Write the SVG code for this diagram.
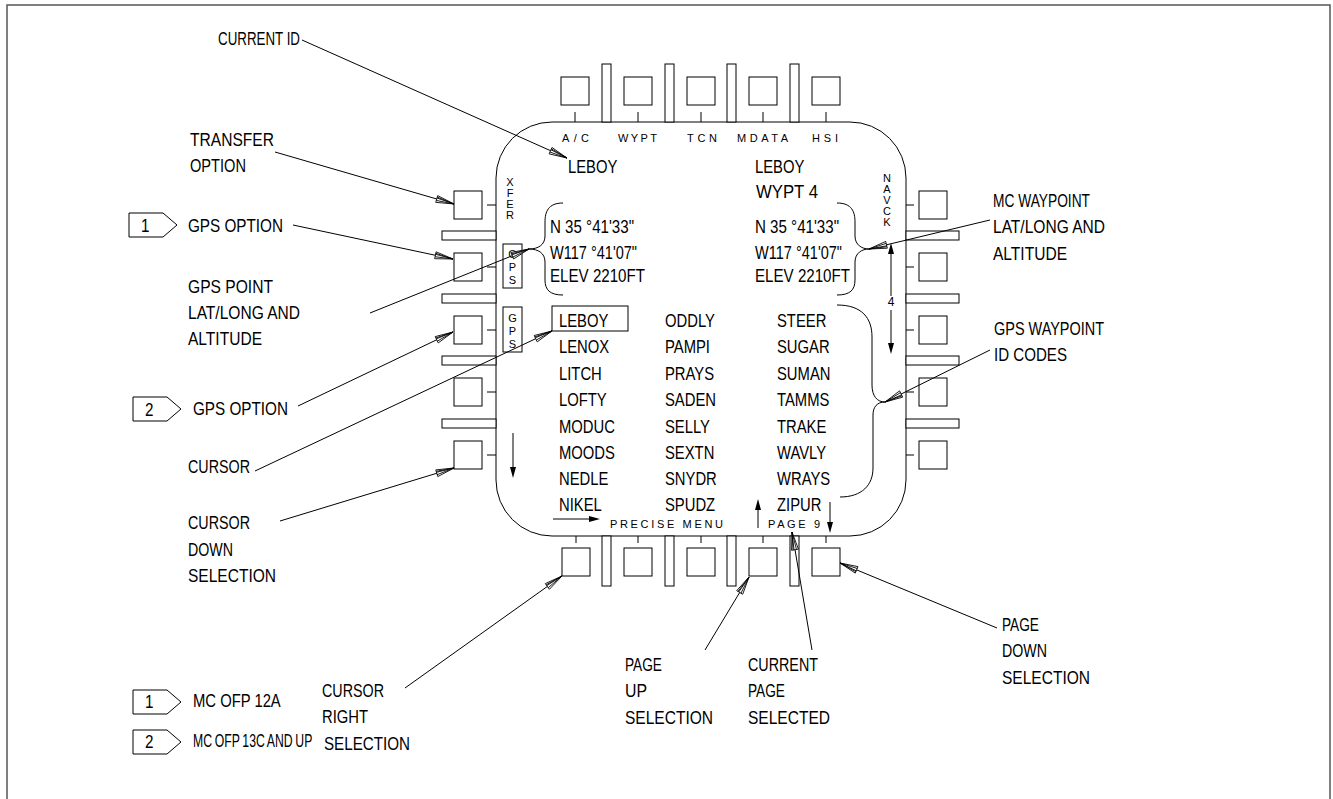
<svg xmlns="http://www.w3.org/2000/svg" width="1333" height="799" viewBox="0 0 1333 799">
<style>
.ln{fill:none;stroke:#000;stroke-width:1}
.bx{fill:#fff;stroke:#000;stroke-width:1}
.t{font-family:"Liberation Sans",Arial,sans-serif;font-size:19px;fill:#000}
.t text{font-family:"Liberation Sans",Arial,sans-serif;font-size:19px}
.s{font-family:"Liberation Sans",Arial,sans-serif;font-size:11px;fill:#000}
.v{font-family:"Liberation Sans",Arial,sans-serif;font-size:11px;fill:#000;text-anchor:middle}
.ld{fill:none;stroke:#000;stroke-width:1;marker-end:url(#oa)}
</style>
<defs>
<marker id="oa" markerUnits="userSpaceOnUse" markerWidth="24" markerHeight="12" refX="20" refY="6" orient="auto" overflow="visible">
<path d="M20,6 L2,2.5 L2,9.5 Z M20,6 L2,5 M20,6 L2,7.5 M20,6 L2,4" fill="#fff" stroke="#000" stroke-width="0.8"/>
</marker>
<path id="fa" d="M0,0 L-3,-11 L3,-11 Z" fill="#000"/>
<path id="tag" d="M0,0 H34 L48,12 L34,24 H0 Z" class="bx"/>
</defs>
<rect x="7" y="5" width="1323" height="820" fill="none" stroke="#555" stroke-width="1.5"/>

<g id="display">
<rect x="496" y="122" width="410" height="414" rx="56" ry="56" class="ln"/>
</g>

<g id="top-buttons">
<rect x="561" y="77" width="28" height="28" class="bx"/><line x1="575" y1="112" x2="575" y2="122" class="ln"/>
<rect x="624" y="77" width="28" height="28" class="bx"/><line x1="638" y1="112" x2="638" y2="122" class="ln"/>
<rect x="687" y="77" width="28" height="28" class="bx"/><line x1="701" y1="112" x2="701" y2="122" class="ln"/>
<rect x="749" y="77" width="28" height="28" class="bx"/><line x1="763" y1="112" x2="763" y2="122" class="ln"/>
<rect x="812" y="77" width="28" height="28" class="bx"/><line x1="826" y1="112" x2="826" y2="122" class="ln"/>
<rect x="602" y="64" width="9" height="58" class="bx"/>
<rect x="665" y="64" width="9" height="58" class="bx"/>
<rect x="727" y="64" width="9" height="58" class="bx"/>
<rect x="790" y="64" width="9" height="58" class="bx"/>
<text class="s" x="562" y="142" textLength="27">A/C</text>
<text class="s" x="618" y="142" textLength="39">WYPT</text>
<text class="s" x="687" y="142" textLength="30">TCN</text>
<text class="s" x="737" y="142" textLength="51">MDATA</text>
<text class="s" x="812" y="142" textLength="26">HSI</text>
</g>

<g id="bottom-buttons">
<rect x="562" y="548" width="28" height="28" class="bx"/><line x1="576" y1="536" x2="576" y2="543" class="ln"/>
<rect x="624" y="548" width="28" height="28" class="bx"/><line x1="638" y1="536" x2="638" y2="543" class="ln"/>
<rect x="687" y="548" width="28" height="28" class="bx"/><line x1="701" y1="536" x2="701" y2="543" class="ln"/>
<rect x="749" y="548" width="28" height="28" class="bx"/><line x1="763" y1="536" x2="763" y2="543" class="ln"/>
<rect x="812" y="548" width="28" height="28" class="bx"/><line x1="826" y1="536" x2="826" y2="543" class="ln"/>
<rect x="602" y="536" width="9" height="50" class="bx"/>
<rect x="665" y="536" width="9" height="50" class="bx"/>
<rect x="727" y="536" width="9" height="50" class="bx"/>
<rect x="790" y="536" width="9" height="50" class="bx"/>
<text class="s" x="610" y="528" textLength="113">PRECISE MENU</text>
<text class="s" x="768" y="528" textLength="52">PAGE 9</text>
</g>

<g id="left-buttons">
<rect x="454" y="191" width="28" height="28" class="bx"/><line x1="487" y1="205" x2="496" y2="205" class="ln"/>
<rect x="454" y="253" width="28" height="28" class="bx"/><line x1="487" y1="267" x2="496" y2="267" class="ln"/>
<rect x="454" y="316" width="28" height="28" class="bx"/><line x1="487" y1="330" x2="496" y2="330" class="ln"/>
<rect x="454" y="378" width="28" height="28" class="bx"/><line x1="487" y1="392" x2="496" y2="392" class="ln"/>
<rect x="454" y="441" width="28" height="28" class="bx"/><line x1="487" y1="455" x2="496" y2="455" class="ln"/>
<rect x="442" y="231" width="54" height="9" class="bx"/>
<rect x="442" y="294" width="54" height="9" class="bx"/>
<rect x="442" y="356" width="54" height="9" class="bx"/>
<rect x="442" y="419" width="54" height="9" class="bx"/>
</g>

<g id="right-buttons">
<rect x="919" y="191" width="28" height="28" class="bx"/><line x1="906" y1="205" x2="914" y2="205" class="ln"/>
<rect x="919" y="253" width="28" height="28" class="bx"/><line x1="906" y1="267" x2="914" y2="267" class="ln"/>
<rect x="919" y="316" width="28" height="28" class="bx"/><line x1="906" y1="330" x2="914" y2="330" class="ln"/>
<rect x="919" y="378" width="28" height="28" class="bx"/><line x1="906" y1="392" x2="914" y2="392" class="ln"/>
<rect x="919" y="441" width="28" height="28" class="bx"/><line x1="906" y1="455" x2="914" y2="455" class="ln"/>
<rect x="906" y="231" width="53" height="9" class="bx"/>
<rect x="906" y="294" width="53" height="9" class="bx"/>
<rect x="906" y="356" width="53" height="9" class="bx"/>
<rect x="906" y="419" width="53" height="9" class="bx"/>
</g>

<g id="side-labels">
<text class="v" x="510" y="186">X</text><text class="v" x="510" y="197">F</text><text class="v" x="510" y="208">E</text><text class="v" x="510" y="219">R</text>
<rect x="503" y="244" width="19" height="44" class="bx"/>
<text class="v" x="512.5" y="258">G</text><text class="v" x="512.5" y="271">P</text><text class="v" x="512.5" y="284">S</text>
<rect x="503" y="307" width="19" height="45" class="bx"/>
<text class="v" x="512.5" y="322">G</text><text class="v" x="512.5" y="335">P</text><text class="v" x="512.5" y="348">S</text>
<text class="v" x="887" y="182">N</text><text class="v" x="887" y="193">A</text><text class="v" x="887" y="204">V</text><text class="v" x="887" y="215">C</text><text class="v" x="887" y="226">K</text>
<text class="v" x="891" y="306" style="font-size:12px">4</text>
</g>

<g id="display-text" class="t">
<text transform="matrix(0.78 0 0 1 568 173)">LEBOY</text>
<text transform="matrix(0.78 0 0 1 755 173)">LEBOY</text>
<text x="756" y="198" textLength="62" lengthAdjust="spacingAndGlyphs">WYPT 4</text>
<text x="550" y="233" textLength="84" lengthAdjust="spacingAndGlyphs">N 35 °41'33"</text>
<text x="550" y="259" textLength="87" lengthAdjust="spacingAndGlyphs">W117 °41'07"</text>
<text x="550" y="282" textLength="95" lengthAdjust="spacingAndGlyphs">ELEV 2210FT</text>
<text x="755" y="233" textLength="84" lengthAdjust="spacingAndGlyphs">N 35 °41'33"</text>
<text x="755" y="259" textLength="87" lengthAdjust="spacingAndGlyphs">W117 °41'07"</text>
<text x="755" y="282" textLength="95" lengthAdjust="spacingAndGlyphs">ELEV 2210FT</text>
<rect x="552" y="306" width="76" height="25" fill="none" stroke="#000"/>
<text transform="matrix(0.78 0 0 1 559 327)">LEBOY</text>
<text transform="matrix(0.78 0 0 1 559 353)">LENOX</text>
<text transform="matrix(0.78 0 0 1 559 380)">LITCH</text>
<text transform="matrix(0.78 0 0 1 559 406)">LOFTY</text>
<text transform="matrix(0.78 0 0 1 559 433)">MODUC</text>
<text transform="matrix(0.78 0 0 1 559 459)">MOODS</text>
<text transform="matrix(0.78 0 0 1 559 485)">NEDLE</text>
<text transform="matrix(0.78 0 0 1 559 511)">NIKEL</text>
<text transform="matrix(0.78 0 0 1 665 327)">ODDLY</text>
<text transform="matrix(0.78 0 0 1 665 353)">PAMPI</text>
<text transform="matrix(0.78 0 0 1 665 380)">PRAYS</text>
<text transform="matrix(0.78 0 0 1 665 406)">SADEN</text>
<text transform="matrix(0.78 0 0 1 665 433)">SELLY</text>
<text transform="matrix(0.78 0 0 1 665 459)">SEXTN</text>
<text transform="matrix(0.78 0 0 1 665 485)">SNYDR</text>
<text transform="matrix(0.78 0 0 1 665 511)">SPUDZ</text>
<text transform="matrix(0.78 0 0 1 777 327)">STEER</text>
<text transform="matrix(0.78 0 0 1 777 353)">SUGAR</text>
<text transform="matrix(0.78 0 0 1 777 380)">SUMAN</text>
<text transform="matrix(0.78 0 0 1 777 406)">TAMMS</text>
<text transform="matrix(0.78 0 0 1 777 433)">TRAKE</text>
<text transform="matrix(0.78 0 0 1 777 459)">WAVLY</text>
<text transform="matrix(0.78 0 0 1 777 485)">WRAYS</text>
<text transform="matrix(0.78 0 0 1 777 511)">ZIPUR</text>
</g>

<g id="braces">
<path class="ln" d="M563,203 C548,203 545,212 545,222 V236 C545,245 538,249 529,249 C538,249 545,253 545,262 V280 C545,290 550,295 563,295"/>
<path class="ln" d="M837,203 C852,203 855,212 855,222 V236 C855,245 862,249 869,249 C862,249 855,253 855,262 V280 C855,290 850,295 837,295"/>
<path class="ln" d="M837,305 C862,305 872,318 872,337 V385 C872,396 877,402 885,402 C877,402 873,407 873,415 V468 C873,485 862,497 840,497"/>
</g>

<g id="scroll-arrows">
<line x1="513" y1="433" x2="513" y2="470" class="ln"/><use href="#fa" transform="translate(513,478)"/>
<line x1="553" y1="519" x2="590" y2="519" class="ln"/><use href="#fa" transform="translate(600,519) rotate(-90)"/>
<line x1="758" y1="528" x2="758" y2="508" class="ln"/><use href="#fa" transform="translate(758,499) rotate(180)"/>
<line x1="830" y1="502" x2="830" y2="524" class="ln"/><use href="#fa" transform="translate(830,533)"/>
<line x1="891" y1="296" x2="891" y2="252" class="ln"/><use href="#fa" transform="translate(891,243) rotate(180)"/>
<line x1="891" y1="310" x2="891" y2="345" class="ln"/><use href="#fa" transform="translate(891,354)"/>
</g>

<g id="connectors">
<line class="ld" x1="302" y1="40" x2="567" y2="158"/>
<line class="ld" x1="275" y1="152" x2="454" y2="204"/>
<line class="ld" x1="293" y1="225" x2="453" y2="259"/>
<line class="ld" x1="370" y1="313" x2="529" y2="249"/>
<line class="ld" x1="298" y1="406" x2="453" y2="332"/>
<line class="ld" x1="255" y1="471" x2="552" y2="331"/>
<line class="ld" x1="280" y1="521" x2="454" y2="468"/>
<line class="ld" x1="405" y1="688" x2="562" y2="576"/>
<line class="ld" x1="705" y1="650" x2="749" y2="577"/>
<line class="ld" x1="812" y1="650" x2="792" y2="532"/>
<line class="ld" x1="997" y1="628" x2="840" y2="563"/>
<line class="ld" x1="990" y1="220" x2="869" y2="249"/>
<line class="ld" x1="990" y1="350" x2="885" y2="402"/>
</g>

<g id="labels" class="t">
<text x="218" y="45" textLength="82" lengthAdjust="spacingAndGlyphs">CURRENT ID</text>
<text x="190" y="146" textLength="84" lengthAdjust="spacingAndGlyphs">TRANSFER</text>
<text x="190" y="172" textLength="56" lengthAdjust="spacingAndGlyphs">OPTION</text>
<text x="188" y="232" textLength="95" lengthAdjust="spacingAndGlyphs">GPS OPTION</text>
<text x="188" y="293" textLength="85" lengthAdjust="spacingAndGlyphs">GPS POINT</text>
<text x="188" y="319" textLength="112" lengthAdjust="spacingAndGlyphs">LAT/LONG AND</text>
<text x="188" y="345" textLength="74" lengthAdjust="spacingAndGlyphs">ALTITUDE</text>
<text x="193" y="415" textLength="95" lengthAdjust="spacingAndGlyphs">GPS OPTION</text>
<text x="188" y="473" textLength="62" lengthAdjust="spacingAndGlyphs">CURSOR</text>
<text x="188" y="529" textLength="62" lengthAdjust="spacingAndGlyphs">CURSOR</text>
<text x="188" y="556" textLength="45" lengthAdjust="spacingAndGlyphs">DOWN</text>
<text x="188" y="582" textLength="88" lengthAdjust="spacingAndGlyphs">SELECTION</text>
<text x="322" y="697" textLength="62" lengthAdjust="spacingAndGlyphs">CURSOR</text>
<text x="322" y="723" textLength="46" lengthAdjust="spacingAndGlyphs">RIGHT</text>
<text x="324" y="750" textLength="86" lengthAdjust="spacingAndGlyphs">SELECTION</text>
<text x="625" y="671" textLength="37" lengthAdjust="spacingAndGlyphs">PAGE</text>
<text x="625" y="697" textLength="22" lengthAdjust="spacingAndGlyphs">UP</text>
<text x="625" y="724" textLength="88" lengthAdjust="spacingAndGlyphs">SELECTION</text>
<text x="748" y="671" textLength="70" lengthAdjust="spacingAndGlyphs">CURRENT</text>
<text x="748" y="697" textLength="37" lengthAdjust="spacingAndGlyphs">PAGE</text>
<text x="748" y="724" textLength="82" lengthAdjust="spacingAndGlyphs">SELECTED</text>
<text x="1002" y="631" textLength="37" lengthAdjust="spacingAndGlyphs">PAGE</text>
<text x="1002" y="657" textLength="45" lengthAdjust="spacingAndGlyphs">DOWN</text>
<text x="1002" y="684" textLength="88" lengthAdjust="spacingAndGlyphs">SELECTION</text>
<text x="993" y="207" textLength="97" lengthAdjust="spacingAndGlyphs">MC WAYPOINT</text>
<text x="993" y="233" textLength="112" lengthAdjust="spacingAndGlyphs">LAT/LONG AND</text>
<text x="993" y="260" textLength="74" lengthAdjust="spacingAndGlyphs">ALTITUDE</text>
<text x="994" y="335" textLength="110" lengthAdjust="spacingAndGlyphs">GPS WAYPOINT</text>
<text x="994" y="361" textLength="73" lengthAdjust="spacingAndGlyphs">ID CODES</text>
</g>

<g id="tags">
<use href="#tag" x="129" y="213"/><text class="t" transform="matrix(0.8 0 0 1 141 232)">1</text>
<use href="#tag" x="133" y="397"/><text class="t" transform="matrix(0.8 0 0 1 145 416)">2</text>
</g>

<g id="legend">
<use href="#tag" x="133" y="690"/><text class="t" transform="matrix(0.8 0 0 1 145 708)">1</text>
<text class="t" transform="matrix(0.78 0 0 1 193 707)">MC OFP 12A</text>
<use href="#tag" x="133" y="730"/><text class="t" transform="matrix(0.8 0 0 1 145 748)">2</text>
<text class="t" transform="matrix(0.68 0 0 1 193 747)" style="word-spacing:-1px;font-size:18px">MC OFP 13C AND UP</text>
</g>
</svg>
